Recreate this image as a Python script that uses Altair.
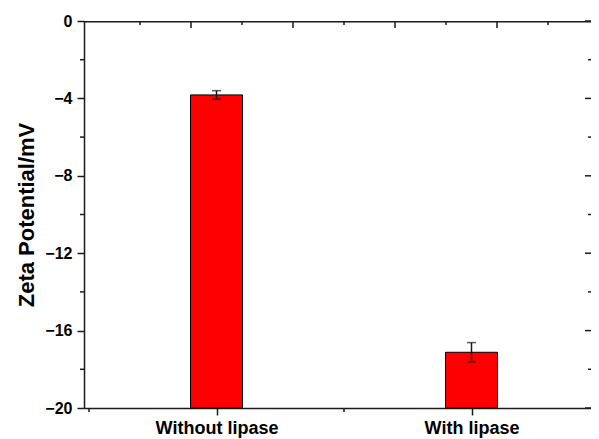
import json
import altair as alt
import pandas as pd

# ---- data ----
categories = ["Without lipase", "With lipase"]
zeta = [-3.82, -17.12]
errors = [0.22, 0.50]

y_major = [-20, -16, -12, -8, -4, 0]
y_minor = [-18, -14, -10, -6, -2]
top_major = [1, 2, 3, 4]
top_minor = [0.5, 1.5, 2.5, 3.5, 4.5]

W, H = 507, 387      # visible plot area (frame continues past the right edge)
RANGE = 520          # full frame width in the reference
STEP = 2.5           # width of one category slot on the x scale
FONT = "Liberation Sans, Arial, Helvetica, sans-serif"
INK = "#1a1a1a"

n = len(categories)
cat_centers = [(i + 0.5) * STEP for i in range(n)]
cat_edges = [i * STEP for i in range(n + 1)]

df = pd.DataFrame({"cat": categories, "zeta": zeta, "err": errors})
ymaj = pd.DataFrame({"v": y_major})
ymin = pd.DataFrame({"v": y_minor})
tmaj = pd.DataFrame({"p": top_major})
tmin = pd.DataFrame({"p": top_minor})
bmin = pd.DataFrame({"p": cat_edges})
ftop = pd.DataFrame({"v": [0]})

yscale = alt.Scale(domain=[-20, 0], nice=False, zero=False)
xscale = alt.Scale(domain=[0, n * STEP], nice=False, zero=False, range=[0, RANGE])
TITLE = "Zeta Potential/mV"

yaxis = alt.Axis(
    values=y_major, format="d", tickSize=7, tickWidth=1.5, tickColor=INK,
    domainColor=INK, domainWidth=1.5, grid=False,
    labelFont=FONT, labelFontSize=16, labelFontWeight="bold", labelColor="black",
    labelPadding=5, titleFont=FONT, titleFontSize=22, titleFontWeight="bold",
    titleColor="black", titlePadding=6,
)
xaxis = alt.Axis(
    title=None, values=cat_centers, grid=False,
    labelExpr=f"{json.dumps(categories)}[round(datum.value / {STEP} - 0.5)]",
    labelAngle=0, tickSize=7, tickWidth=1.5, tickColor=INK,
    domainColor=INK, domainWidth=1.5, labelFont=FONT, labelFontSize=18,
    labelFontWeight="bold", labelColor="black", labelPadding=4,
)

base = alt.Chart(df).transform_window(
    idx="row_number()"
).transform_calculate(
    xpos=f"(datum.idx - 0.5) * {STEP}",
    lo="datum.zeta - datum.err",
    hi="datum.zeta + datum.err",
)

bars = base.mark_bar(size=52, color="#FF0000", stroke="black", strokeWidth=1).encode(
    x=alt.X("xpos:Q", scale=xscale, axis=xaxis),
    y=alt.Y("zeta:Q", scale=yscale, axis=yaxis, title=TITLE),
    y2=alt.datum(-20),
)
err_line = base.mark_rule(color=INK, strokeWidth=1.5).encode(
    x=alt.X("xpos:Q", scale=xscale),
    y=alt.Y("lo:Q", scale=yscale, title=TITLE),
    y2="hi:Q",
)
cap_lo = base.mark_tick(color=INK, size=9, thickness=1.5, orient="horizontal").encode(
    x=alt.X("xpos:Q", scale=xscale),
    y=alt.Y("lo:Q", scale=yscale, title=TITLE),
)
cap_hi = base.mark_tick(color=INK, size=9, thickness=1.5, orient="horizontal").encode(
    x=alt.X("xpos:Q", scale=xscale),
    y=alt.Y("hi:Q", scale=yscale, title=TITLE),
)

# top frame as a thin filled rectangle (spans the whole frame width)
top_frame = alt.Chart(ftop).mark_rect(color=INK, opacity=1).encode(
    y=alt.Y("v:Q", scale=yscale, title=TITLE), y2=alt.value(1.5),
    x=alt.value(0), x2=alt.value(W),
)
left_minor = alt.Chart(ymin).mark_rule(color=INK, strokeWidth=1.5).encode(
    y=alt.Y("v:Q", scale=yscale, title=TITLE), x=alt.value(-4), x2=alt.value(0)
)
right_major = alt.Chart(ymaj).mark_rule(color=INK, strokeWidth=1.5).encode(
    y=alt.Y("v:Q", scale=yscale, title=TITLE), x=alt.value(W - 6), x2=alt.value(W)
)
right_minor = alt.Chart(ymin).mark_rule(color=INK, strokeWidth=1.5).encode(
    y=alt.Y("v:Q", scale=yscale, title=TITLE), x=alt.value(W - 3), x2=alt.value(W)
)
ticks_top_major = alt.Chart(tmaj).transform_calculate(a="0").mark_rule(
    color=INK, strokeWidth=1.5
).encode(
    x=alt.X("p:Q", scale=xscale),
    y=alt.Y("a:Q", scale=yscale, title=TITLE), y2=alt.value(7),
)
ticks_top_minor = alt.Chart(tmin).transform_calculate(a="0").mark_rule(
    color=INK, strokeWidth=1.5
).encode(
    x=alt.X("p:Q", scale=xscale),
    y=alt.Y("a:Q", scale=yscale, title=TITLE), y2=alt.value(4),
)
ticks_bottom_minor = alt.Chart(bmin).mark_rule(color=INK, strokeWidth=1.5).encode(
    x=alt.X("p:Q", scale=xscale), y=alt.value(H), y2=alt.value(H + 4),
)

chart = alt.layer(
    bars, err_line, cap_lo, cap_hi, left_minor, right_major, right_minor,
    ticks_top_major, ticks_top_minor, ticks_bottom_minor, top_frame,
).properties(
    width=W, height=H,
    autosize=alt.AutoSizeParams(type="none"),
    padding={"left": 76, "top": 13, "right": 0, "bottom": 30},
).configure_view(
    stroke=None
).configure(background="white")

chart.save("out.html", embed_options={"renderer": "svg", "actions": False})
